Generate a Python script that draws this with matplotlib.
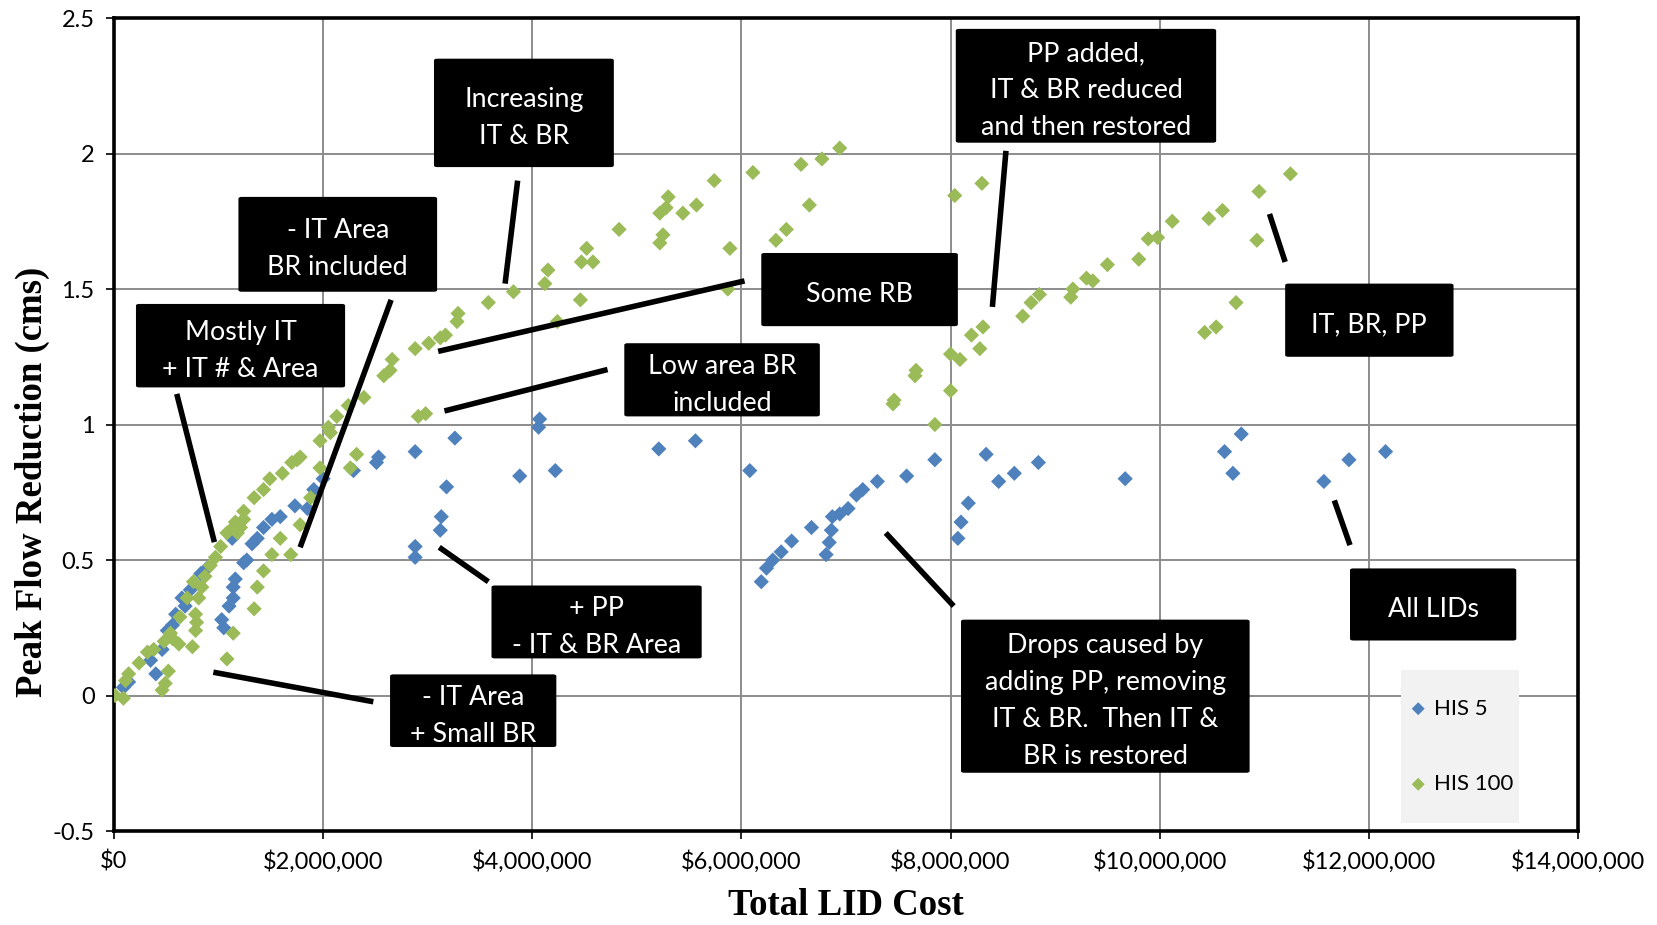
import matplotlib
matplotlib.use("Agg")
import matplotlib.pyplot as plt
from matplotlib.patches import FancyBboxPatch, Rectangle
from matplotlib.ticker import FuncFormatter

# HIS 5 scenarios: total LID cost ($ millions) and peak flow reduction (cms)
his5_cost = [0.09, 0.14, 0.35, 0.40, 0.46, 0.51, 0.56, 0.59, 0.65, 0.68, 0.73, 0.83, 0.89,
             1.03, 1.05, 1.10, 1.14, 1.14, 1.16, 1.13, 1.24, 1.27, 1.32, 1.37, 1.43, 1.51, 1.59,
             1.73, 1.85, 1.91, 2.00, 2.29, 2.51, 2.53, 2.88, 3.26, 3.18, 3.13, 3.12, 2.88, 2.88,
             4.07, 4.06, 3.88, 4.22, 5.21, 5.56, 6.08, 6.19, 6.24, 6.30, 6.38, 6.48, 6.67, 6.81,
             6.84, 6.86, 6.87, 6.94, 7.02, 7.10, 7.16, 7.30, 7.58, 7.85, 8.07, 8.10, 8.17, 8.34,
             8.46, 8.61, 8.84, 9.67, 10.62, 10.78, 10.70, 11.57, 11.81, 12.16]
his5_peak = [0.03, 0.05, 0.13, 0.08, 0.17, 0.24, 0.26, 0.30, 0.36, 0.33, 0.39, 0.45, 0.47,
             0.28, 0.25, 0.33, 0.36, 0.40, 0.43, 0.58, 0.49, 0.50, 0.56, 0.58, 0.62, 0.65, 0.66,
             0.70, 0.69, 0.76, 0.80, 0.83, 0.86, 0.88, 0.90, 0.95, 0.77, 0.66, 0.61, 0.55, 0.51,
             1.02, 0.99, 0.81, 0.83, 0.91, 0.94, 0.83, 0.42, 0.47, 0.50, 0.53, 0.57, 0.62, 0.52,
             0.565, 0.61, 0.66, 0.67, 0.69, 0.74, 0.76, 0.79, 0.81, 0.87, 0.58, 0.64, 0.71, 0.89,
             0.79, 0.82, 0.86, 0.80, 0.90, 0.965, 0.82, 0.79, 0.87, 0.90]

# HIS 100 scenarios
his100_cost = [0.01, 0.09, 0.11, 0.14, 0.24, 0.32, 0.38, 0.46, 0.49, 0.52, 0.48, 0.56, 0.62,
               0.54, 0.75, 0.78, 0.79, 0.78, 0.63, 0.70, 0.81, 0.76, 0.84, 0.87, 0.92, 0.97,
               1.02, 1.08, 1.14, 1.18, 1.21, 1.24, 1.16, 1.24, 1.34, 1.43, 1.49, 1.61, 1.70,
               1.75, 1.78, 1.97, 2.05, 2.07, 2.13, 2.24, 2.39, 2.58, 2.64, 2.66, 2.88, 3.01,
               3.12, 3.17, 3.28, 3.29, 3.58, 3.82, 4.12, 4.15, 4.24, 4.46, 4.47, 4.58, 4.52,
               4.83, 5.22, 5.25, 5.22, 5.28, 5.30, 5.44, 5.57, 5.74, 5.89, 5.87, 6.11, 6.33,
               6.43, 6.57, 6.65, 6.77, 6.94,
               1.08, 1.14, 1.34, 1.37, 1.43, 1.51, 1.59, 1.69, 1.78, 1.88, 1.97, 2.26, 2.32,
               2.91, 2.98,
               7.45, 7.46, 7.66, 7.67, 7.85, 8.00, 8.00, 8.09, 8.20, 8.31, 8.28, 8.04, 8.30,
               8.69, 8.77, 8.85, 9.15, 9.17, 9.30, 9.36, 9.50, 9.80, 9.89, 9.98, 10.12, 10.47,
               10.60, 10.95, 10.93, 10.43, 10.54, 10.73, 11.25]
his100_peak = [0.0, -0.01, 0.055, 0.08, 0.12, 0.16, 0.17, 0.02, 0.045, 0.09, 0.20, 0.21, 0.19,
               0.23, 0.18, 0.24, 0.27, 0.30, 0.29, 0.36, 0.36, 0.42, 0.40, 0.44, 0.48, 0.51,
               0.55, 0.60, 0.62, 0.60, 0.62, 0.65, 0.64, 0.68, 0.73, 0.76, 0.80, 0.82, 0.86,
               0.87, 0.88, 0.94, 0.99, 0.97, 1.03, 1.07, 1.10, 1.18, 1.20, 1.24, 1.28, 1.30,
               1.32, 1.33, 1.38, 1.41, 1.45, 1.49, 1.52, 1.57, 1.38, 1.46, 1.60, 1.60, 1.65,
               1.72, 1.67, 1.70, 1.78, 1.80, 1.84, 1.78, 1.81, 1.90, 1.65, 1.50, 1.93, 1.68,
               1.72, 1.96, 1.81, 1.98, 2.02,
               0.135, 0.23, 0.32, 0.40, 0.46, 0.52, 0.58, 0.52, 0.63, 0.73, 0.84, 0.84, 0.89,
               1.03, 1.04,
               1.076, 1.09, 1.18, 1.20, 1.00, 1.125, 1.26, 1.24, 1.33, 1.36, 1.28, 1.845, 1.89,
               1.40, 1.45, 1.48, 1.47, 1.50, 1.54, 1.53, 1.59, 1.61, 1.685, 1.69, 1.75, 1.76,
               1.79, 1.86, 1.68, 1.34, 1.36, 1.45, 1.925]

series_labels = ["HIS 5", "HIS 100"]
x_ticks = [0, 2, 4, 6, 8, 10, 12, 14]
y_ticks = [-0.5, 0, 0.5, 1, 1.5, 2, 2.5]

# Callouts: text, box extent (x0, x1, y0, y1) and leader line (x0, y0, x1, y1), in data units
callouts = [
    ("Increasing\nIT & BR", (3.06, 4.78, 1.95, 2.35), (3.86, 1.90, 3.74, 1.52)),
    ("- IT Area\nBR included", (1.19, 3.09, 1.49, 1.84), (2.65, 1.46, 1.78, 0.547)),
    ("Mostly IT\n+ IT # & Area", (0.21, 2.21, 1.137, 1.445), (0.60, 1.113, 0.96, 0.566)),
    ("PP added,\nIT & BR reduced\nand then restored", (8.05, 10.54, 2.04, 2.46), (8.53, 2.01, 8.40, 1.434)),
    ("Some RB", (6.19, 8.07, 1.363, 1.633), (6.03, 1.53, 3.10, 1.27)),
    ("Low area BR\nincluded", (4.88, 6.75, 1.03, 1.30), (4.72, 1.203, 3.16, 1.05)),
    ("IT, BR, PP", (11.20, 12.81, 1.25, 1.52), (11.05, 1.777, 11.20, 1.60)),
    ("+ PP\n- IT & BR Area", (3.61, 5.62, 0.137, 0.406), (3.58, 0.42, 3.11, 0.547)),
    ("- IT Area\n+ Small BR", (2.64, 4.23, -0.19, 0.078), (2.48, -0.023, 0.95, 0.086)),
    ("Drops caused by\nadding PP, removing\nIT & BR.  Then IT &\nBR is restored",
     (8.10, 10.86, -0.285, 0.28), (8.03, 0.33, 7.38, 0.60)),
    ("All LIDs", (11.82, 13.41, 0.203, 0.469), (11.82, 0.555, 11.67, 0.72)),
]

BLUE = "#4F81BD"
GREEN = "#9BBB59"
SANS = ["Lato", "DejaVu Sans"]
SERIF = ["Liberation Serif", "DejaVu Serif"]

fig = plt.figure(figsize=(16.57, 9.25), dpi=100)
ax = fig.add_axes([0.0688, 0.1016, 0.8835, 0.8789])

ax.set_xlim(0, 14)
ax.set_ylim(-0.5, 2.5)
ax.set_xticks(x_ticks)
ax.set_yticks(y_ticks)
ax.xaxis.set_major_formatter(FuncFormatter(lambda v, p: f"${v * 1e6:,.0f}"))
ax.yaxis.set_major_formatter(FuncFormatter(lambda v, p: f"{v:g}"))
ax.grid(True, color="#8C8C8C", linewidth=1.4, zorder=0)
ax.set_axisbelow(True)
for s in ax.spines.values():
    s.set_linewidth(2.6)
    s.set_color("black")
ax.tick_params(axis="both", direction="out", length=6, width=1.2, labelsize=17, pad=8)
for lab in ax.get_xticklabels() + ax.get_yticklabels():
    lab.set_family(SANS)

ax.scatter(his5_cost, his5_peak, marker="D", s=60, color=BLUE, edgecolors="none",
           zorder=3, label=series_labels[0])
ax.scatter(his100_cost, his100_peak, marker="D", s=60, color=GREEN, edgecolors="none",
           zorder=3, label=series_labels[1])

ax.set_xlabel("Total LID Cost", family=SERIF, fontweight="bold", fontsize=26.5)
ax.set_ylabel("Peak Flow Reduction (cms)", family=SERIF, fontweight="bold", fontsize=26.5)
ax.xaxis.set_label_coords(0.4996, -0.092)
ax.yaxis.set_label_coords(-0.056, 0.429)
ax.xaxis.label.set_va("center")
ax.yaxis.label.set_va("center")

for text, (bx0, bx1, by0, by1), (lx0, ly0, lx1, ly1) in callouts:
    ax.plot([lx0, lx1], [ly0, ly1], color="black", linewidth=4, solid_capstyle="butt",
            zorder=5)
    ax.add_patch(FancyBboxPatch((bx0, by0), bx1 - bx0, by1 - by0,
                                boxstyle="round,pad=0,rounding_size=0.03",
                                facecolor="black", edgecolor="none",
                                mutation_aspect=0.2, zorder=6))
    ax.annotate(text, xy=((bx0 + bx1) / 2, (by0 + by1) / 2), xytext=(0, -3.5),
                textcoords="offset points", ha="center", va="center",
                color="white", fontsize=19.3, family=SANS, linespacing=1.6, zorder=7)

# legend panel
ax.add_patch(Rectangle((0.879, 0.0104), 0.081, 0.1876, transform=ax.transAxes,
                       facecolor="#F2F2F2", edgecolor="none", zorder=4))
leg = ax.legend(loc="center", bbox_to_anchor=(0.9195, 0.1042), frameon=False,
                prop={"family": SANS, "size": 16}, labelspacing=2.5, handletextpad=0.2,
                handlelength=1.0, markerscale=0.85)
leg.set_zorder(8)

fig.savefig("out.png", dpi=100)
